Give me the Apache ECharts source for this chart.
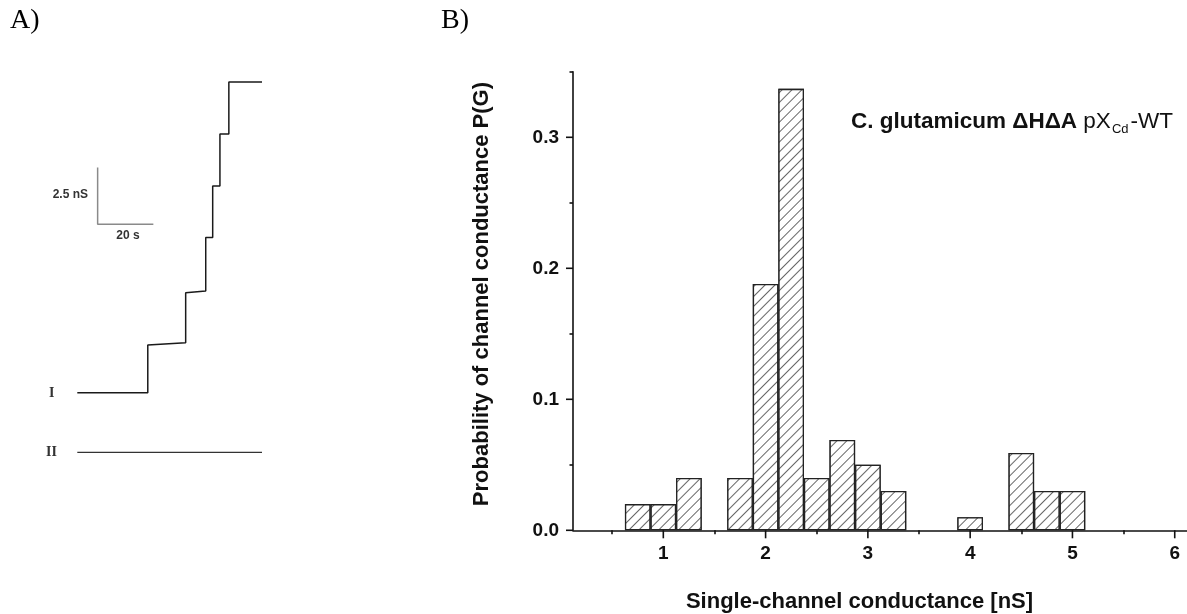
<!DOCTYPE html>
<html>
<head>
<meta charset="utf-8">
<script src="https://cdn.jsdelivr.net/npm/echarts@6/dist/echarts.min.js"></script>
<style>
html, body { margin: 0; padding: 0; background: #fff; }
#chart { width: 1187px; height: 614px; }
</style>
</head>
<body>
<div id="chart"></div>
<script>
// A) conductance recording, time in s, conductance in nS
const traceTime = [0, 25.3, 25.3, 38.9, 38.9, 46.1, 46.1, 48.6, 48.6, 51.2, 51.2, 54.4, 54.4, 66.3];
const traceG = [0, 0, 2.1, 2.2, 4.41, 4.48, 6.84, 6.84, 9.12, 9.12, 11.41, 11.41, 13.7, 13.7];
const controlTime = [0, 36.4, 36.9, 37.4, 66.3];
const controlG = [-2.63, -2.63, -2.71, -2.63, -2.63];
const scaleBarTime = [7.3, 7.3, 27.3];
const scaleBarG = [9.93, 7.43, 7.43];

// B) histogram of single-channel conductance
const binCenters = [0.75, 1.0, 1.25, 1.75, 2.0, 2.25, 2.5, 2.75, 3.0, 3.25, 4.0, 4.5, 4.75, 5.0];
const probability = [0.02, 0.02, 0.04, 0.04, 0.188, 0.337, 0.04, 0.069, 0.05, 0.03, 0.01, 0.059, 0.03, 0.03];
const xMin = 0.117;
const xMax = 6.12;
const xTicks = [1, 2, 3, 4, 5, 6];
const xMinorTicks = [0.5, 1.5, 2.5, 3.5, 4.5, 5.5];
const yTicks = [0, 0.1, 0.2, 0.3];
const yMinorTicks = [0.05, 0.15, 0.25, 0.35];

const sans = "'Liberation Sans', Arial, sans-serif";
const serif = "'Liberation Serif', 'Times New Roman', serif";

const pair = (xs, ys) => xs.map((x, i) => [x, ys[i]]);
const tickStyle = { color: "#111", width: 1.6 };
const labelStyle = { color: "#111", fontSize: 19, fontWeight: "bold", fontFamily: sans };

// extra axes that only draw the short (minor) ticks
function tickAxis(gridIndex, position, min, max, values, length) {
  return {
    type: "value",
    gridIndex: gridIndex,
    position: position,
    min: min,
    max: max,
    splitLine: { show: false },
    axisLine: { show: false },
    axisTick: { show: true, customValues: values, length: length, lineStyle: tickStyle },
    axisLabel: { show: false },
  };
}

// long ticks at the labelled values, drawn as short line segments off the axes
function majorTicks(data, dx, dy) {
  return {
    type: "custom",
    xAxisIndex: 0,
    yAxisIndex: 0,
    silent: true,
    clip: false,
    z: 10,
    data: data,
    renderItem: function (params, api) {
      const p = api.coord([api.value(0), api.value(1)]);
      return {
        type: "line",
        shape: { x1: p[0], y1: p[1], x2: p[0] + dx, y2: p[1] + dy },
        style: { stroke: "#111", lineWidth: 1.6 },
      };
    },
  };
}

var myChart = echarts.init(document.getElementById("chart"), null, { renderer: "canvas" });

myChart.setOption({
  animation: false,
  backgroundColor: "#fff",
  grid: [
    { left: 573, top: 71.8, right: 0, bottom: 83.7, outerBoundsMode: "none", containLabel: false },
    { left: 77.3, top: 75.3, width: 184.7, height: 396.7, outerBoundsMode: "none", containLabel: false },
  ],
  xAxis: [
    {
      type: "value",
      gridIndex: 0,
      position: "bottom",
      min: xMin,
      max: xMax,
      splitLine: { show: false },
      axisLine: { lineStyle: tickStyle },
      axisTick: { show: false },
      axisLabel: Object.assign({ customValues: xTicks, margin: 14 }, labelStyle),
      name: "Single-channel conductance [nS]",
      nameLocation: "middle",
      nameGap: 61,
      nameTextStyle: {
        color: "#111",
        fontSize: 22,
        fontWeight: "bold",
        fontFamily: sans,
        padding: [0, 41, 0, 0],
      },
    },
    tickAxis(0, "bottom", xMin, xMax, xMinorTicks, 4),
    {
      type: "value",
      gridIndex: 1,
      min: 0,
      max: 66.3,
      show: false,
    },
  ],
  yAxis: [
    {
      type: "value",
      gridIndex: 0,
      position: "left",
      min: 0,
      max: 0.35,
      splitLine: { show: false },
      axisLine: { show: true, lineStyle: tickStyle },
      axisTick: { show: false },
      axisLabel: Object.assign({ customValues: yTicks, margin: 14, formatter: (v) => v.toFixed(1) }, labelStyle),
      name: "Probability of channel conductance P(G)",
      nameLocation: "middle",
      nameGap: 80,
      nameTextStyle: {
        color: "#111",
        fontSize: 22,
        fontWeight: "bold",
        fontFamily: sans,
        padding: [0, 0, 0, 14],
      },
    },
    tickAxis(0, "left", 0, 0.35, yMinorTicks, 3.5),
    {
      type: "value",
      gridIndex: 1,
      min: -3.5,
      max: 14,
      show: false,
    },
  ],
  series: [
    {
      name: "P(G)",
      type: "bar",
      xAxisIndex: 0,
      yAxisIndex: 0,
      barWidth: 25.6,
      data: pair(binCenters, probability),
      itemStyle: {
        color: "#fff",
        borderColor: "#222",
        borderWidth: 1.3,
        decal: {
          symbol: "rect",
          symbolSize: 1,
          color: "#666",
          backgroundColor: "#fff",
          dashArrayX: [1, 0],
          dashArrayY: [1, 5.5],
          rotation: -Math.PI / 4,
        },
      },
    },
    majorTicks(xTicks.map((v) => [v, 0]), 0, 8),
    majorTicks(yTicks.map((v) => [xMin, v]), -7, 0),
    {
      name: "trace I",
      type: "line",
      xAxisIndex: 2,
      yAxisIndex: 2,
      showSymbol: false,
      data: pair(traceTime, traceG),
      lineStyle: { color: "#1a1a1a", width: 1.5 },
    },
    {
      name: "trace II",
      type: "line",
      xAxisIndex: 2,
      yAxisIndex: 2,
      showSymbol: false,
      data: pair(controlTime, controlG),
      lineStyle: { color: "#333", width: 1.3 },
    },
    {
      name: "scale bar",
      type: "line",
      xAxisIndex: 2,
      yAxisIndex: 2,
      showSymbol: false,
      data: pair(scaleBarTime, scaleBarG),
      lineStyle: { color: "#8a8a8a", width: 1.5 },
    },
  ],
  graphic: [
    { type: "text", x: 10, y: 21, style: { text: "A)", fontSize: 28, fontFamily: serif, fill: "#000", verticalAlign: "middle" } },
    { type: "text", x: 441, y: 21, style: { text: "B)", fontSize: 28, fontFamily: serif, fill: "#000", verticalAlign: "middle" } },
    { type: "text", x: 49, y: 393, style: { text: "I", fontSize: 14, fontWeight: "bold", fontFamily: serif, fill: "#333", verticalAlign: "middle" } },
    { type: "text", x: 46, y: 452, style: { text: "II", fontSize: 14, fontWeight: "bold", fontFamily: serif, fill: "#333", verticalAlign: "middle" } },
    { type: "text", x: 88, y: 195, style: { text: "2.5 nS", fontSize: 12, fontWeight: "bold", fontFamily: sans, fill: "#333", align: "right", verticalAlign: "middle" } },
    { type: "text", x: 128, y: 236, style: { text: "20 s", fontSize: 12, fontWeight: "bold", fontFamily: sans, fill: "#333", align: "center", verticalAlign: "middle" } },
    {
      type: "text",
      x: 851,
      y: 122,
      style: {
        text: "{b|C. glutamicum ΔHΔA }{n|pX}{s|Cd}{n|-WT}",
        verticalAlign: "middle",
        rich: {
          b: { fontSize: 22.5, fontWeight: "bold", fontFamily: sans, fill: "#111", lineHeight: 26 },
          n: { fontSize: 22.5, fontFamily: sans, fill: "#111", lineHeight: 26 },
          s: { fontSize: 13, fontFamily: sans, fill: "#111", lineHeight: 26, padding: [15, 2, 0, 1] },
        },
      },
    },
  ],
});
</script>
</body>
</html>
